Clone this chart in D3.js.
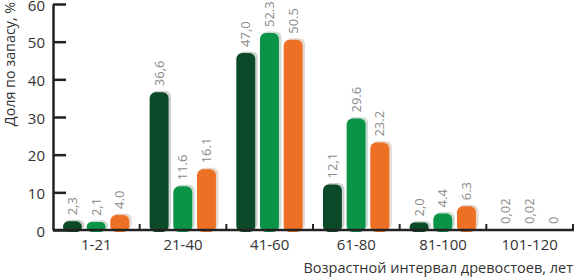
<!DOCTYPE html>
<html>
<head>
<meta charset="utf-8">
<script src="https://cdn.jsdelivr.net/npm/d3@7"></script>
<style>
  html, body { margin: 0; padding: 0; background: #fff; }
  svg { display: block; font-family: "Open Sans", sans-serif; }
</style>
</head>
<body>
<svg id="chart" width="576" height="278"></svg>
<script>
// ── Data ────────────────────────────────────────────────────────────────
const categories = ['1-21', '21-40', '41-60', '61-80', '81-100', '101-120'];
const seriesKeys = ['s1', 's2', 's3'];
const valuesS1 = [2.3, 36.6, 47.0, 12.1, 2.0, 0.02];
const valuesS2 = [2.1, 11.6, 52.3, 29.6, 4.4, 0.02];
const valuesS3 = [4.0, 16.1, 50.5, 23.2, 6.3, 0];
const labelsS1 = ['2,3', '36,6', '47,0', '12,1', '2,0', '0,02'];
const labelsS2 = ['2,1', '11.6', '52.3', '29.6', '4.4', '0,02'];
const labelsS3 = ['4.0', '16.1', '50.5', '23.2', '6.3', '0'];
const yTicks = [0, 10, 20, 30, 40, 50, 60];
const colors = ['#0b4a29', '#0a9447', '#ee7024'];

const series = [valuesS1, valuesS2, valuesS3];
const labels = [labelsS1, labelsS2, labelsS3];

// ── Layout ──────────────────────────────────────────────────────────────
const svg = d3.select('#chart');
const mLeft = 53, mRight = 573, mTop = 4, mBottom = 230;

const x0 = d3.scaleBand().domain(categories).range([mLeft, mRight]);
const bw = x0.bandwidth();
const x1 = d3.scaleBand().domain(seriesKeys)
  .range([bw * 0.115, bw * 0.88]).paddingInner(0.2);
const y = d3.scaleLinear().domain([0, 60]).range([mBottom, mTop]);

const rows = [];
categories.forEach((c, i) => {
  seriesKeys.forEach((k, j) => {
    rows.push({ cat: c, key: k, j, value: series[j][i], label: labels[j][i] });
  });
});

// ── Bars (with faint halo) ──────────────────────────────────────────────
const barG = svg.append('g');
const drawn = rows.filter(d => d.value >= 0.5);

barG.selectAll('rect.halo')
  .data(drawn)
  .join('rect')
    .attr('class', 'halo')
    .attr('x', d => x0(d.cat) + x1(d.key) + 1.5)
    .attr('y', d => y(d.value) - 1.5)
    .attr('width', x1.bandwidth() + 1)
    .attr('height', d => mBottom - y(d.value) + 1.5)
    .attr('rx', 6)
    .attr('fill', d => d3.interpolateRgb(colors[d.j], '#e6e6e6')(0.88));

barG.selectAll('rect.bar')
  .data(drawn)
  .join('rect')
    .attr('class', 'bar')
    .attr('x', d => x0(d.cat) + x1(d.key))
    .attr('y', d => y(d.value))
    .attr('width', x1.bandwidth())
    .attr('height', d => mBottom - y(d.value) + 2)
    .attr('rx', d => Math.min(6, (mBottom - y(d.value) + 2) / 2))
    .attr('fill', d => colors[d.j]);

// ── Value labels ────────────────────────────────────────────────────────
svg.append('g').selectAll('text')
  .data(rows)
  .join('text')
    .attr('transform', d => {
      const cx = x0(d.cat) + x1(d.key) + x1.bandwidth() / 2;
      return `translate(${cx},${y(d.value) - 6}) rotate(-90)`;
    })
    .attr('dy', '0.35em')
    .attr('font-size', 13)
    .attr('fill', '#8a8a8a')
    .text(d => d.label);

// ── Y axis ──────────────────────────────────────────────────────────────
const yAxis = svg.append('g')
  .attr('transform', `translate(${mLeft},0)`)
  .call(d3.axisLeft(y).tickValues(yTicks).tickSizeInner(-13).tickSizeOuter(0).tickPadding(8));
yAxis.select('.domain').attr('stroke', '#222').attr('stroke-width', 2.5);
yAxis.selectAll('.tick line').attr('stroke', '#222').attr('stroke-width', 2.5);
yAxis.selectAll('.tick text')
  .attr('dy', '0.42em')
  .attr('font-size', 15).attr('font-family', '"Open Sans", sans-serif').attr('fill', '#333');

// ── X axis ──────────────────────────────────────────────────────────────
svg.append('line')
  .attr('x1', mLeft).attr('x2', mRight + 1)
  .attr('y1', mBottom).attr('y2', mBottom)
  .attr('stroke', '#222').attr('stroke-width', 2.5);

svg.append('g').selectAll('line')
  .data(categories.slice(1).concat(['end']))
  .join('line')
    .attr('x1', d => d === 'end' ? mRight : x0(d))
    .attr('x2', d => d === 'end' ? mRight : x0(d))
    .attr('y1', mBottom).attr('y2', mBottom - 6)
    .attr('stroke', '#222').attr('stroke-width', 2);

svg.append('g').selectAll('text')
  .data(categories)
  .join('text')
    .attr('x', d => x0(d) + bw / 2)
    .attr('y', 250)
    .attr('text-anchor', 'middle')
    .attr('font-size', 15)
    .attr('fill', '#333')
    .text(d => d);

// ── Titles ──────────────────────────────────────────────────────────────
svg.append('text')
  .attr('x', mRight).attr('y', 273)
  .attr('text-anchor', 'end')
  .attr('font-size', 14.5)
  .attr('fill', '#333')
  .text('Возрастной интервал древостоев, лет');

svg.append('text')
  .attr('transform', 'translate(15,64) rotate(-90)')
  .attr('text-anchor', 'middle')
  .attr('font-size', 14.3)
  .attr('fill', '#333')
  .text('Доля по запасу, %');
</script>
</body>
</html>
